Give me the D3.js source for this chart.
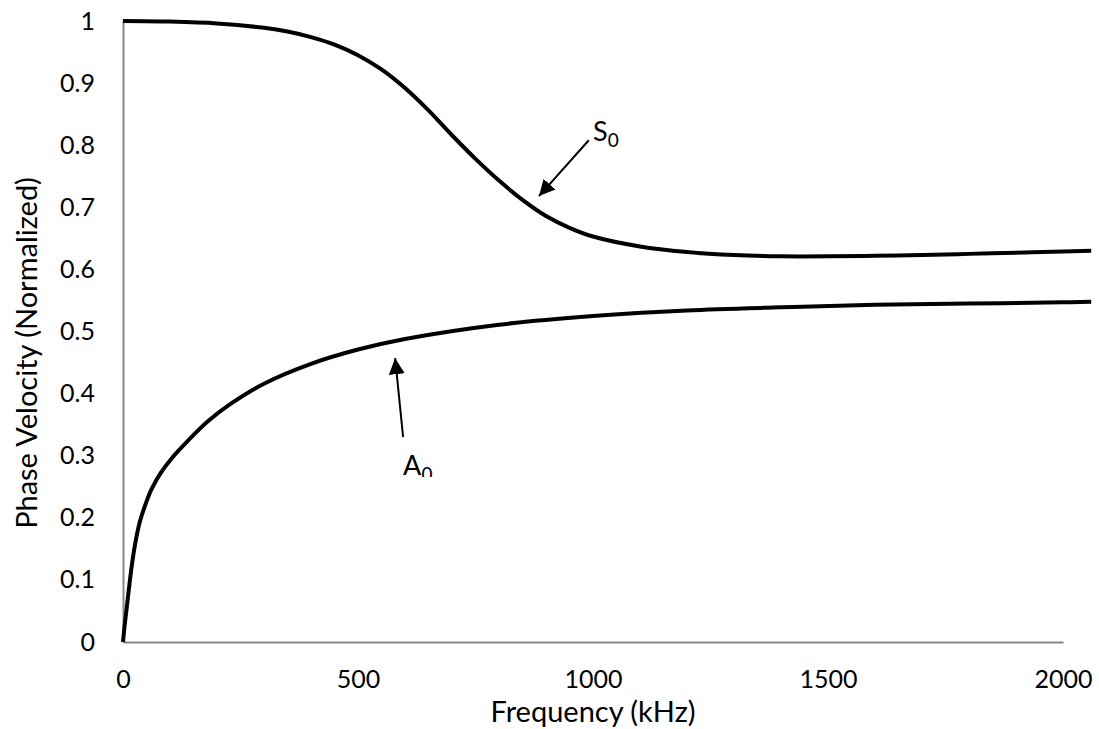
<!DOCTYPE html>
<html>
<head>
<meta charset="utf-8">
<script src="https://cdn.jsdelivr.net/npm/d3@7"></script>
<style>
  body { margin: 0; background: #fff; }
  text { font-family: Lato, "Open Sans", sans-serif; fill: #000; }
</style>
</head>
<body>
<div id="chart"></div>
<script>
// values
var freqS0 = [0, 100, 200, 300, 350, 400, 450, 500, 550, 600, 650, 700, 750, 800, 850, 900, 950, 1000, 1100, 1200, 1300, 1400, 1500, 1600, 1700, 1800, 1900, 2000, 2060];
var velS0  = [1.0, 0.999, 0.996, 0.989, 0.983, 0.974, 0.962, 0.945, 0.922, 0.892, 0.856, 0.816, 0.778, 0.743, 0.712, 0.686, 0.667, 0.653, 0.637, 0.628, 0.623, 0.621, 0.621, 0.622, 0.623, 0.625, 0.627, 0.629, 0.63];

var freqA0 = [0, 4, 9, 14, 20, 27, 36, 48, 60, 80, 106, 138, 180, 228, 300, 400, 500, 600, 800, 1000, 1200, 1400, 1600, 1800, 2000, 2060];
var velA0  = [0, 0.03, 0.062, 0.095, 0.13, 0.163, 0.194, 0.222, 0.245, 0.272, 0.298, 0.324, 0.355, 0.383, 0.416, 0.448, 0.471, 0.488, 0.511, 0.525, 0.534, 0.539, 0.543, 0.545, 0.547, 0.548];

var xTicks = [0, 500, 1000, 1500, 2000];
var yTicks = [0, 0.1, 0.2, 0.3, 0.4, 0.5, 0.6, 0.7, 0.8, 0.9, 1];

// annotation arrows: [from, to] in data units, label position
var notes = [
  {name: "S", sub: "0", from: [991, 0.808], to: [885, 0.718], label: [1000, 0.807]},
  {name: "A", sub: "0", from: [596, 0.33], to: [579, 0.457], label: [596, 0.269]}
];

var W = 1099, H = 729;
var svg = d3.select("#chart").append("svg")
    .attr("width", W)
    .attr("height", H);

var x = d3.scaleLinear().domain([0, 2000]).range([123, 1063]);
var y = d3.scaleLinear().domain([0, 1]).range([642, 21]);

var defs = svg.append("defs");
defs.append("marker")
    .attr("id", "head")
    .attr("viewBox", "0 0 10 10")
    .attr("refX", 10).attr("refY", 5)
    .attr("markerWidth", 8).attr("markerHeight", 8)
    .attr("markerUnits", "strokeWidth")
    .attr("orient", "auto")
  .append("path")
    .attr("d", "M0,0 L10,5 L0,10 z")
    .attr("fill", "#000");
defs.append("clipPath").attr("id", "aclip")
  .append("rect")
    .attr("x", 0).attr("y", 0).attr("width", W).attr("height", y(0.269) + 2);

// axes
var xAxis = svg.append("g")
    .attr("transform", "translate(0," + y(0) + ")")
    .call(d3.axisBottom(x).tickValues(xTicks).tickSize(0).tickPadding(28).tickFormat(d3.format("d")));
var yAxis = svg.append("g")
    .attr("transform", "translate(" + x(0) + ",0)")
    .call(d3.axisLeft(y).tickValues(yTicks).tickSize(0).tickPadding(28).tickFormat(d => d === 0 || d === 1 ? d : d3.format(".1f")(d)));

[xAxis, yAxis].forEach(function(a) {
  a.select(".domain").attr("stroke", "#868686").attr("stroke-width", 2);
  a.selectAll("text").style("font-size", "25px").style("font-family", "Lato, 'Open Sans', sans-serif").attr("fill", "#000");
});

// axis titles
svg.append("text")
    .attr("x", x(1000)).attr("y", 722)
    .attr("text-anchor", "middle")
    .style("font-size", "29px")
    .text("Frequency (kHz)");
svg.append("text")
    .attr("transform", "translate(37,353) rotate(-90)")
    .attr("text-anchor", "middle")
    .style("font-size", "29px")
    .text("Phase Velocity (Normalized)");

// curves
var line = d3.line()
    .x(d => x(d[0]))
    .y(d => y(d[1]))
    .curve(d3.curveCatmullRom.alpha(0.5));

[[freqS0, velS0], [freqA0, velA0]].forEach(function(s) {
  svg.append("path")
      .datum(d3.zip(s[0], s[1]))
      .attr("d", line)
      .attr("fill", "none")
      .attr("stroke", "#000")
      .attr("stroke-width", 4);
});

// annotations
notes.forEach(function(n, i) {
  svg.append("line")
      .attr("x1", x(n.from[0])).attr("y1", y(n.from[1]))
      .attr("x2", x(n.to[0])).attr("y2", y(n.to[1]))
      .attr("stroke", "#000")
      .attr("stroke-width", 2)
      .attr("marker-end", "url(#head)");
  var t = svg.append("text")
      .attr("x", x(n.label[0])).attr("y", y(n.label[1]))
      .style("font-size", "27px");
  if (i === 1) t.attr("clip-path", "url(#aclip)");
  t.append("tspan").text(n.name);
  t.append("tspan").attr("dy", 6).style("font-size", "19px").text(n.sub);
});
</script>
</body>
</html>
